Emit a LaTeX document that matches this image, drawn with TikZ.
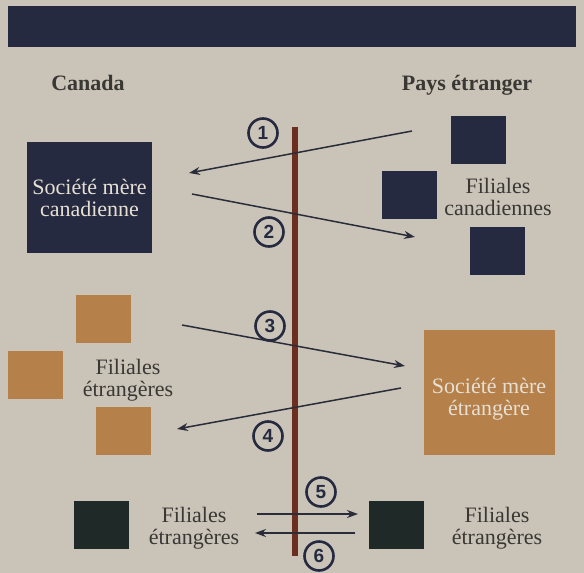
\documentclass[tikz,border=0pt]{standalone}
\usepackage{fontspec}
\setmainfont{Liberation Serif}
\newfontfamily\digitfont{Liberation Sans}
\usetikzlibrary{arrows.meta}
\definecolor{bgc}{HTML}{C9C3B8}
\definecolor{navy}{HTML}{262A40}
\definecolor{ochre}{HTML}{B5804A}
\definecolor{darkgreen}{HTML}{1F2927}
\definecolor{brownline}{HTML}{6B2E1F}
\definecolor{arrowc}{HTML}{2A2C3A}
\definecolor{labelc}{HTML}{3A3835}
\definecolor{lighttext}{HTML}{E6E0D4}
\tikzset{
  sq/.style={minimum width=55pt, minimum height=48pt, inner sep=0pt, outer sep=0pt},
  navysq/.style={sq, fill=navy},
  ochresq/.style={sq, fill=ochre},
  greensq/.style={sq, fill=darkgreen},
  lbl/.style={inner sep=0pt, align=center, text=labelc, font=\fontsize{22}{22}\selectfont},
  head/.style={inner sep=0pt, anchor=base, text=labelc, font=\fontsize{22}{22}\selectfont\bfseries},
  flow/.style={draw=arrowc, line width=1.5pt, -{Stealth[length=11pt,width=8pt]}},
  num/.style={circle, draw=navy, line width=2.6pt, minimum size=29pt, inner sep=0pt,
              font=\digitfont\bfseries\fontsize{19}{19}\selectfont, text=navy},
}
\begin{document}
\begin{tikzpicture}[x=1pt,y=-1pt]
\fill[bgc] (0,0) rectangle (584,573);
\useasboundingbox (0,0) rectangle (584,573);
% top bar
\node[fill=navy, minimum width=568pt, minimum height=41pt, inner sep=0pt] (bar) at (292,26.5) {};
% headers
\node[head] (canada) at (88,90) {Canada};
\node[head] (pays) at (467,90) {Pays étranger};
% vertical border line
\coordinate (vtop) at (295,127);
\coordinate (vbot) at (295,556);
\draw[brownline, line width=6pt] (vtop) -- (vbot);
% Canadian parent
\node[fill=navy, minimum width=125pt, minimum height=111pt, inner sep=0pt, align=center,
      text=lighttext, font=\fontsize{22}{22}\selectfont] (smc) at (89.5,197.5) {Société mère\\canadienne};
% Canadian subsidiaries abroad
\node[navysq] (fc1) at (478,139.5) {};
\node[navysq] (fc2) at (409,195) {};
\node[navysq] (fc3) at (497,251) {};
\node[lbl] (fctxt) at (498,197) {Filiales\\canadiennes};
% Foreign subsidiaries in Canada (ochre)
\node[ochresq] (fe1) at (103.5,319) {};
\node[ochresq] (fe2) at (35,375) {};
\node[ochresq] (fe3) at (123.5,431) {};
\node[lbl] (fetxt) at (128,380) {Filiales\\étrangères};
% Foreign parent
\node[fill=ochre, minimum width=131pt, minimum height=125pt, inner sep=0pt] (sme) at (489.5,392.5) {};
\node[lbl, text=lighttext] (smetxt) at (489,399) {Société mère\\étrangère};
% bottom
\node[greensq] (gl) at (101,525) {};
\node[greensq] (gr) at (396,525) {};
\node[lbl] (gltxt) at (194,528) {Filiales\\étrangères};
\node[lbl] (grtxt) at (497,528) {Filiales\\étrangères};
% arrow end points
\coordinate (a1s) at (412,131); \coordinate (a1e) at (189,173);
\coordinate (a2s) at (192,194); \coordinate (a2e) at (415,237);
\coordinate (a3s) at (182,325); \coordinate (a3e) at (405,366);
\coordinate (a4s) at (401,388); \coordinate (a4e) at (177,429);
\coordinate (a5s) at (257,514); \coordinate (a5e) at (358,514);
\coordinate (a6s) at (355,533); \coordinate (a6e) at (255,533);
\draw[flow] (a1s) -- (a1e);
\draw[flow] (a2s) -- (a2e);
\draw[flow] (a3s) -- (a3e);
\draw[flow] (a4s) -- (a4e);
\draw[flow] (a5s) -- (a5e);
\draw[flow] (a6s) -- (a6e);
% numbers
\node[num] (n1) at (263,133) {1};
\node[num] (n2) at (269,232) {2};
\node[num] (n3) at (270,326) {3};
\node[num] (n4) at (268,436) {4};
\node[num] (n5) at (321,492) {5};
\node[num] (n6) at (319,556) {6};
\end{tikzpicture}
\end{document}
